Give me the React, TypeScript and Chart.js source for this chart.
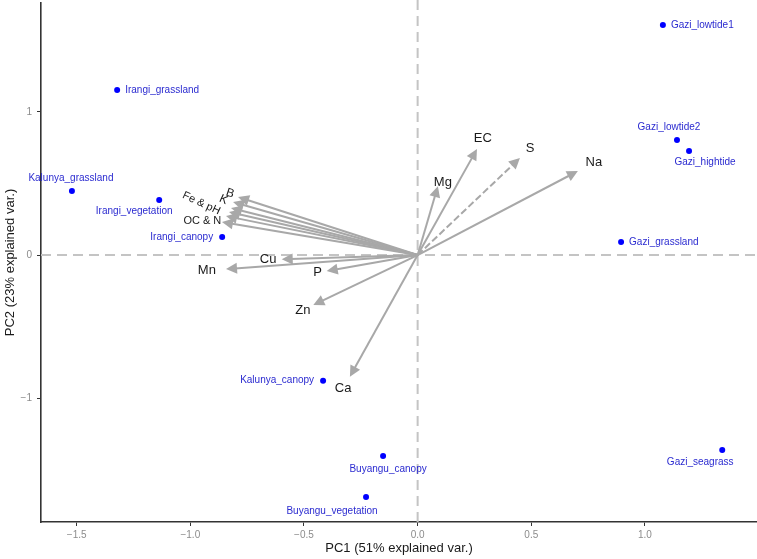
import React, { useEffect, useRef } from 'react';
import { Chart, registerables } from 'chart.js';

Chart.register(...registerables);

// ---------- data ----------
const sampleNames = [
  'Gazi_lowtide1', 'Gazi_lowtide2', 'Gazi_hightide', 'Gazi_grassland', 'Gazi_seagrass',
  'Irangi_grassland', 'Kalunya_grassland', 'Irangi_vegetation', 'Irangi_canopy',
  'Kalunya_canopy', 'Buyangu_canopy', 'Buyangu_vegetation',
];
const samplePC1 = [1.079, 1.141, 1.194, 0.895, 1.340, -1.322, -1.521, -1.137, -0.860, -0.416, -0.152, -0.227];
const samplePC2 = [1.605, 0.803, 0.726, 0.091, -1.361, 1.151, 0.447, 0.384, 0.126, -0.877, -1.403, -1.689];

const variableNames = ['Na', 'S', 'EC', 'Mg', 'B', 'K', 'Fe', 'pH', 'OC', 'N', 'Cu', 'Mn', 'P', 'Zn', 'Ca'];
const variablePC1 = [0.705, 0.450, 0.261, 0.089, -0.790, -0.812, -0.821, -0.830, -0.843, -0.861, -0.598, -0.843, -0.400, -0.459, -0.298];
const variablePC2 = [0.586, 0.677, 0.740, 0.481, 0.405, 0.370, 0.328, 0.300, 0.272, 0.230, -0.030, -0.098, -0.112, -0.349, -0.849];
const variableLabels = ['Na', 'S', 'EC', 'Mg', 'B', 'K', 'Fe & pH', '', '', 'OC & N', 'Cu', 'Mn', 'P', 'Zn', 'Ca'];

const xTicks = [-1.5, -1.0, -0.5, 0.0, 0.5, 1.0];
const yTicks = [-1, 0, 1];
const xTitle = 'PC1 (51% explained var.)';
const yTitle = 'PC2 (23% explained var.)';

// ---------- style / layout (not data) ----------
const FONT = "'Liberation Sans', Arial, Helvetica, sans-serif";
const sampleLabelStyle = [
  { dx: 8, dy: 0, align: 'left' },
  { dx: -8, dy: -13, align: 'center' },
  { dx: 16, dy: 11, align: 'center' },
  { dx: 8, dy: 0, align: 'left' },
  { dx: -22, dy: 12, align: 'center' },
  { dx: 8, dy: 0, align: 'left' },
  { dx: -1, dy: -13, align: 'center' },
  { dx: -25, dy: 11, align: 'center' },
  { dx: -9, dy: 0, align: 'right' },
  { dx: -9, dy: 0, align: 'right' },
  { dx: 5, dy: 13, align: 'center' },
  { dx: -34, dy: 14, align: 'center' },
];
const variableLabelStyle = [
  { nx: 0, ny: 0, rot: 0, size: 13 },
  { nx: 0, ny: 0, rot: 0, size: 13 },
  { nx: 0, ny: 0, rot: 0, size: 13 },
  { nx: 3, ny: 3, rot: 0, size: 13 },
  { nx: 10, ny: 2, rot: 18, size: 12 },
  { nx: 9, ny: 3, rot: 25, size: 12 },
  { nx: -11, ny: 0, rot: 25, size: 11 },
  { nx: 0, ny: 0, rot: 0, size: 11 },
  { nx: 0, ny: 0, rot: 0, size: 11 },
  { nx: 0, ny: 2, rot: 0, size: 11 },
  { nx: 0, ny: 0, rot: 0, size: 13 },
  { nx: 0, ny: 0, rot: 0, size: 13 },
  { nx: 0, ny: 0, rot: 0, size: 13 },
  { nx: 0, ny: 0, rot: 0, size: 13 },
  { nx: 0, ny: 0, rot: 0, size: 13 },
];
const dashedArrows = ['S'];

const fmtMinus = (s: string) => s.replace('-', '\u2212');

const biplotPlugin = {
  id: 'biplot',
  beforeDatasetsDraw(chart: any) {
    const { ctx, chartArea, scales } = chart;
    const xs = scales.x;
    const ys = scales.y;
    const x0 = xs.getPixelForValue(0);
    const y0 = ys.getPixelForValue(0);
    ctx.save();
    ctx.beginPath();
    ctx.rect(chartArea.left, chartArea.top - 3, chartArea.width, chartArea.height + 3);
    ctx.clip();
    // zero reference lines
    ctx.strokeStyle = '#c4c4c4';
    ctx.lineWidth = 2;
    ctx.setLineDash([10, 6]);
    ctx.beginPath();
    ctx.moveTo(chartArea.left, y0);
    ctx.lineTo(chartArea.right, y0);
    ctx.stroke();
    ctx.beginPath();
    ctx.moveTo(x0, chartArea.top - 3);
    ctx.lineTo(x0, chartArea.bottom);
    ctx.stroke();
    // arrows
    const L = 11;
    const W = 5.5;
    ctx.strokeStyle = '#a8a8a8';
    ctx.fillStyle = '#a8a8a8';
    ctx.lineWidth = 2;
    variableNames.forEach((name, i) => {
      const tx = xs.getPixelForValue(variablePC1[i]);
      const ty = ys.getPixelForValue(variablePC2[i]);
      const dx = tx - x0;
      const dy = ty - y0;
      const len = Math.hypot(dx, dy);
      const ux = dx / len;
      const uy = dy / len;
      const bx = tx - ux * L;
      const by = ty - uy * L;
      ctx.setLineDash(dashedArrows.includes(name) ? [7, 3] : []);
      ctx.beginPath();
      ctx.moveTo(x0, y0);
      ctx.lineTo(bx + ux * 2, by + uy * 2);
      ctx.stroke();
      ctx.setLineDash([]);
      ctx.beginPath();
      ctx.moveTo(tx, ty);
      ctx.lineTo(bx - uy * W, by + ux * W);
      ctx.lineTo(bx + uy * W, by - ux * W);
      ctx.closePath();
      ctx.fill();
    });
    ctx.restore();
  },
  afterDatasetsDraw(chart: any) {
    const { ctx, scales } = chart;
    const xs = scales.x;
    const ys = scales.y;
    ctx.save();
    ctx.textBaseline = 'middle';
    // variable labels
    ctx.fillStyle = '#1a1a1a';
    variableNames.forEach((_, i) => {
      const label = variableLabels[i];
      if (!label) return;
      const st = variableLabelStyle[i];
      const px = xs.getPixelForValue(variablePC1[i] * 1.1) + st.nx;
      const py = ys.getPixelForValue(variablePC2[i] * 1.1) + st.ny;
      ctx.save();
      ctx.translate(px, py);
      ctx.rotate((st.rot * Math.PI) / 180);
      ctx.font = `${st.size}px ${FONT}`;
      ctx.textAlign = 'center';
      ctx.fillText(label, 0, 0);
      ctx.restore();
    });
    // sample labels
    ctx.fillStyle = '#2b2bd0';
    ctx.font = `10px ${FONT}`;
    sampleNames.forEach((name, i) => {
      const st = sampleLabelStyle[i];
      const px = xs.getPixelForValue(samplePC1[i]) + st.dx;
      const py = ys.getPixelForValue(samplePC2[i]) + st.dy;
      ctx.textAlign = st.align;
      ctx.fillText(name, px, py);
    });
    ctx.restore();
  },
};

export default function App() {
  const canvasRef = useRef<HTMLCanvasElement>(null);

  useEffect(() => {
    const canvas = canvasRef.current;
    if (!canvas) return;
    const chart = new Chart(canvas, {
      type: 'scatter',
      data: {
        datasets: [
          {
            data: samplePC1.map((x, i) => ({ x, y: samplePC2[i] })),
            pointRadius: 3,
            pointHoverRadius: 3,
            pointBackgroundColor: '#0000ff',
            pointBorderColor: '#0000ff',
            pointBorderWidth: 0,
          },
        ],
      },
      options: {
        responsive: false,
        animation: false,
        events: [],
        layout: { padding: { top: 3, right: 0, left: 0, bottom: 0 } },
        plugins: { legend: { display: false }, tooltip: { enabled: false } },
        scales: {
          x: {
            type: 'linear',
            min: -1.657,
            max: 1.493,
            afterFit: (s: any) => {
              s.height = 37;
              s.paddingLeft = 0;
              s.paddingRight = 0;
            },
            afterBuildTicks: (s: any) => {
              s.ticks = xTicks.map((v) => ({ value: v }));
            },
            ticks: {
              callback: (v: any) => fmtMinus(Number(v).toFixed(1)),
              font: { size: 10, family: FONT },
              color: '#8c8c8c',
              padding: 3,
              maxRotation: 0,
              autoSkip: false,
            },
            grid: { drawOnChartArea: false, drawTicks: true, tickLength: 4, color: '#333333', lineWidth: 1 },
            border: { display: true, color: '#333333', width: 1.6 },
            title: {
              display: true,
              text: xTitle,
              font: { size: 13, family: FONT },
              color: '#1a1a1a',
              padding: { top: 0, bottom: 3 },
            },
          },
          y: {
            type: 'linear',
            min: -1.863,
            max: 1.759,
            afterFit: (s: any) => {
              s.width = 41;
              s.paddingTop = 0;
              s.paddingBottom = 0;
            },
            afterBuildTicks: (s: any) => {
              s.ticks = yTicks.map((v) => ({ value: v }));
            },
            ticks: {
              callback: (v: any) => fmtMinus(String(Math.round(Number(v)))),
              font: { size: 10, family: FONT },
              color: '#8c8c8c',
              padding: 5,
              autoSkip: false,
            },
            grid: { drawOnChartArea: false, drawTicks: true, tickLength: 4, color: '#333333', lineWidth: 1 },
            border: { display: true, color: '#333333', width: 1.6 },
            title: {
              display: true,
              text: yTitle,
              font: { size: 13, family: FONT },
              color: '#1a1a1a',
              padding: { top: 3, bottom: 0 },
            },
          },
        },
      },
      plugins: [biplotPlugin],
    } as any);
    return () => chart.destroy();
  }, []);

  return (
    <div style={{ position: 'absolute', left: 0, top: 0, width: 757, height: 559, overflow: 'hidden', background: '#ffffff' }}>
      <canvas ref={canvasRef} width={760} height={559} style={{ display: 'block' }} />
    </div>
  );
}
